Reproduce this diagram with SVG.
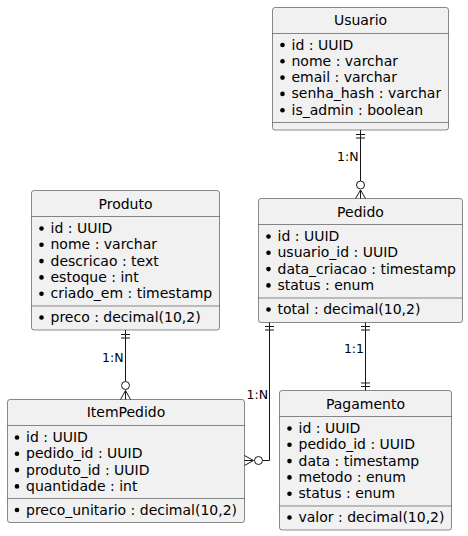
<svg xmlns="http://www.w3.org/2000/svg" width="468" height="536" viewBox="0 0 468 536">
<style>
.box{fill:#F1F1F1;stroke:#181818;stroke-width:0.5}
.sep{stroke:#181818;stroke-width:0.5}
.t{font-family:"DejaVu Sans",sans-serif;font-size:14px;fill:#000}
.c{text-anchor:middle}
.b{fill:#000}
.ln{fill:none;stroke:#181818;stroke-width:1}
.o{fill:#fff;stroke:#181818;stroke-width:1}
.lbl{font-family:"DejaVu Sans",sans-serif;font-size:12.5px;fill:#000;text-anchor:end}
</style>
<rect width="468" height="536" fill="#fff"/>
<g id="Usuario">
<rect class="box" x="272.5" y="7.5" width="176" height="122.5" rx="2.5"/>
<line class="sep" x1="272.5" y1="33.5" x2="448.5" y2="33.5"/>
<line class="sep" x1="272.5" y1="122.5" x2="448.5" y2="122.5"/>
<text class="t c" x="360.5" y="25">Usuario</text>
<circle class="b" cx="282.5" cy="45" r="2.3"/><text class="t" x="291.5" y="49.5">id : UUID</text>
<circle class="b" cx="282.5" cy="61.3" r="2.3"/><text class="t" x="291.5" y="65.8">nome : varchar</text>
<circle class="b" cx="282.5" cy="77.6" r="2.3"/><text class="t" x="291.5" y="82.1">email : varchar</text>
<circle class="b" cx="282.5" cy="93.9" r="2.3"/><text class="t" x="291.5" y="98.4">senha_hash : varchar</text>
<circle class="b" cx="282.5" cy="110.2" r="2.3"/><text class="t" x="291.5" y="114.7">is_admin : boolean</text>
</g>
<g id="Pedido">
<rect class="box" x="258.5" y="198.5" width="204" height="124" rx="2.5"/>
<line class="sep" x1="258.5" y1="224.5" x2="462.5" y2="224.5"/>
<line class="sep" x1="258.5" y1="298" x2="462.5" y2="298"/>
<text class="t c" x="360.5" y="216.5">Pedido</text>
<circle class="b" cx="268.5" cy="236.5" r="2.3"/><text class="t" x="277.5" y="241">id : UUID</text>
<circle class="b" cx="268.5" cy="252.8" r="2.3"/><text class="t" x="277.5" y="257.3">usuario_id : UUID</text>
<circle class="b" cx="268.5" cy="269.1" r="2.3"/><text class="t" x="277.5" y="273.6">data_criacao : timestamp</text>
<circle class="b" cx="268.5" cy="285.4" r="2.3"/><text class="t" x="277.5" y="289.9">status : enum</text>
<circle class="b" cx="268.5" cy="309.5" r="2.3"/><text class="t" x="277.5" y="314">total : decimal(10,2)</text>
</g>
<g id="Produto">
<rect class="box" x="31.5" y="190.5" width="188" height="139.5" rx="2.5"/>
<line class="sep" x1="31.5" y1="216.5" x2="219.5" y2="216.5"/>
<line class="sep" x1="31.5" y1="306" x2="219.5" y2="306"/>
<text class="t c" x="125.5" y="208.5">Produto</text>
<circle class="b" cx="41.5" cy="228.5" r="2.3"/><text class="t" x="50.5" y="233">id : UUID</text>
<circle class="b" cx="41.5" cy="244.8" r="2.3"/><text class="t" x="50.5" y="249.3">nome : varchar</text>
<circle class="b" cx="41.5" cy="261.1" r="2.3"/><text class="t" x="50.5" y="265.6">descricao : text</text>
<circle class="b" cx="41.5" cy="277.4" r="2.3"/><text class="t" x="50.5" y="281.9">estoque : int</text>
<circle class="b" cx="41.5" cy="293.7" r="2.3"/><text class="t" x="50.5" y="298.2">criado_em : timestamp</text>
<circle class="b" cx="41.5" cy="317.5" r="2.3"/><text class="t" x="50.5" y="322">preco : decimal(10,2)</text>
</g>
<g id="ItemPedido">
<rect class="box" x="7.5" y="399.5" width="237" height="123" rx="2.5"/>
<line class="sep" x1="7.5" y1="425.5" x2="244.5" y2="425.5"/>
<line class="sep" x1="7.5" y1="498.5" x2="244.5" y2="498.5"/>
<text class="t c" x="126" y="417">ItemPedido</text>
<circle class="b" cx="17" cy="437.5" r="2.3"/><text class="t" x="26" y="442">id : UUID</text>
<circle class="b" cx="17" cy="453.8" r="2.3"/><text class="t" x="26" y="458.3">pedido_id : UUID</text>
<circle class="b" cx="17" cy="470.1" r="2.3"/><text class="t" x="26" y="474.6">produto_id : UUID</text>
<circle class="b" cx="17" cy="486.4" r="2.3"/><text class="t" x="26" y="490.9">quantidade : int</text>
<circle class="b" cx="17" cy="510" r="2.3"/><text class="t" x="26" y="514.5">preco_unitario : decimal(10,2)</text>
</g>
<g id="Pagamento">
<rect class="box" x="279.5" y="390.5" width="172" height="139.5" rx="2.5"/>
<line class="sep" x1="279.5" y1="416.5" x2="451.5" y2="416.5"/>
<line class="sep" x1="279.5" y1="506" x2="451.5" y2="506"/>
<text class="t c" x="365.5" y="408.5">Pagamento</text>
<circle class="b" cx="289.5" cy="428.5" r="2.3"/><text class="t" x="298.5" y="433">id : UUID</text>
<circle class="b" cx="289.5" cy="444.8" r="2.3"/><text class="t" x="298.5" y="449.3">pedido_id : UUID</text>
<circle class="b" cx="289.5" cy="461.1" r="2.3"/><text class="t" x="298.5" y="465.6">data : timestamp</text>
<circle class="b" cx="289.5" cy="477.4" r="2.3"/><text class="t" x="298.5" y="481.9">metodo : enum</text>
<circle class="b" cx="289.5" cy="493.7" r="2.3"/><text class="t" x="298.5" y="498.2">status : enum</text>
<circle class="b" cx="289.5" cy="517.5" r="2.3"/><text class="t" x="298.5" y="522">valor : decimal(10,2)</text>
</g>
<g id="connectors">
<!-- Usuario - Pedido -->
<line class="ln" x1="360.5" y1="130" x2="360.5" y2="181"/>
<line class="ln" x1="356" y1="134.5" x2="365" y2="134.5"/>
<line class="ln" x1="356" y1="138" x2="365" y2="138"/>
<circle class="o" cx="360.5" cy="185" r="4"/>
<path class="ln" d="M355.5,198.5 L360.5,190 L365.5,198.5 M360.5,190 V198.5"/>
<text class="lbl" x="358.5" y="161">1:N</text>
<!-- Produto - ItemPedido -->
<line class="ln" x1="125.5" y1="330" x2="125.5" y2="381.5"/>
<line class="ln" x1="121" y1="334.5" x2="130" y2="334.5"/>
<line class="ln" x1="121" y1="338" x2="130" y2="338"/>
<circle class="o" cx="125.5" cy="385.5" r="4"/>
<path class="ln" d="M120.5,399.5 L125.5,390.5 L130.5,399.5 M125.5,390.5 V399.5"/>
<text class="lbl" x="123.5" y="362">1:N</text>
<!-- Pedido - Pagamento -->
<line class="ln" x1="365.5" y1="322.5" x2="365.5" y2="390.5"/>
<line class="ln" x1="361" y1="326.5" x2="370" y2="326.5"/>
<line class="ln" x1="361" y1="330" x2="370" y2="330"/>
<line class="ln" x1="361" y1="383" x2="370" y2="383"/>
<line class="ln" x1="361" y1="386.5" x2="370" y2="386.5"/>
<text class="lbl" x="364" y="353">1:1</text>
<!-- Pedido - ItemPedido -->
<path class="ln" d="M269.5,322.5 V460.5 H262.5"/>
<line class="ln" x1="265" y1="326.5" x2="274" y2="326.5"/>
<line class="ln" x1="265" y1="330" x2="274" y2="330"/>
<circle class="o" cx="258.5" cy="460.5" r="4"/>
<path class="ln" d="M244.5,455.5 L253.5,460.5 L244.5,465.5 M253.5,460.5 H244.5"/>
<text class="lbl" x="268" y="398.5">1:N</text>
</g>
</svg>
